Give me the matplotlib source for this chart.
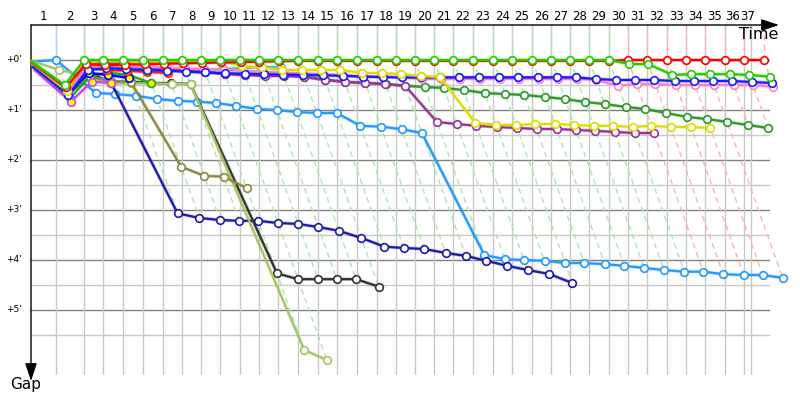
import matplotlib
matplotlib.use("Agg")
import matplotlib.pyplot as plt
from matplotlib import transforms

# ---------------- data ----------------
# leader's cumulative time (s) at the end of each lap 1..37
leader_lap_end = [84, 179, 243, 310, 378, 445, 509, 573, 637, 704, 768, 833, 900, 967,
                  1031, 1099, 1166, 1230, 1294, 1358, 1422, 1490, 1557, 1621, 1689, 1753,
                  1817, 1881, 1948, 2012, 2076, 2144, 2208, 2272, 2339, 2403, 2470]
time_limit = 2427
lap_labels = [str(i) for i in range(1, 38)]

# gap to leader (s) for each car, lap 0 .. last completed lap
gap_lime = [2, 30] + [0] * 28 + [4.8, 5, 18, 17, 17, 17, 18, 20]
gap_red = [3, 33, 5, 6, 5.5, 5, 4.5, 4, 3.5, 3, 2.5, 2, 1.5] + [1] * 17 + [0] * 8
gap_red_y = [4, 36, 9.6, 12, 13, 14.4, 15.6]
gap_yellow = [4, 37, 3, 1.5, 2, 2, 2.4, 2.4, 1.8, 1.2, 7, 9, 12, 12, 12, 12, 15.6, 15.6,
              16.8, 19.2, 20.4, 75.6, 78, 78, 76.8, 76.8, 78, 79, 79, 80.4, 79, 80.4, 80.4, 81.6]
gap_cyan = [5, 35, 7, 8, 9, 10, 10.8, 13.2, 12, 10.8, 9.6, 8.4, 8.4]
gap_purple = [6, 36, 4, 3.6, 3.6, 8, 12, 13, 14.4, 16.8, 18, 19.2, 19, 20.4, 24, 26.4, 27.6,
              28.8, 31, 74.4, 76.8, 79, 80.4, 81.6, 82.8, 82.8, 84, 85, 86.4, 87.6, 87.6]
gap_dgreen = [7, 40, 8, 5, 5, 8.5, 12, 13, 14.5, 16.5, 17.5, 18.5, 18.5, 20, 23.5, 26,
              27.5, 29, 31, 32.4, 33.6, 36, 39.6, 40.8, 42, 44.4, 46.8, 50.4, 52.8, 56.4,
              58.8, 63.6, 68.4, 70.8, 74.4, 78, 81.6]
gap_pink = [6, 40, 8, 6, 7, 8, 9, 10, 11, 12, 13, 14, 15, 16, 17, 18, 20, 20, 21] + \
           [22.8] * 9 + [24, 31, 28.8, 28.8, 30, 30, 30, 30, 30, 32.4]
gap_blue = [8, 42, 12, 10, 11, 12, 13, 14, 15, 16, 16.5, 17, 17.5, 18, 18.5, 19, 20, 20.5, 21] + \
           [20.8] * 9 + [22.8, 24, 24, 24, 25.2, 25.2, 25.2, 25.2, 26.4, 27.6]
gap_blue_y = [8, 40, 15.6, 18, 21.6]
gap_navy = [9, 42, 15, 27.6, 184, 189.6, 192, 193, 193, 195.6, 196.8, 200.4, 205, 213.6,
            224, 225.6, 226.8, 231.6, 235, 241, 247, 252, 256.8, 267.6]
gap_black = [8, 40, 20, 27, 26, 27.6, 28, 28.8, 256, 263, 263, 263, 263, 272]
gap_olive = [7, 38, 20, 25, 26, 128, 139, 140, 153.6]
gap_green_y = [10, 46, 20, 15, 18, 27.6]
gap_magenta_y = [12, 50, 26, 27.6]
gap_pale = [1, 12, 20, 28, 28, 28, 28.8, 28.8, 348, 360]
gap_lightblue = [2, 0, 39.6, 40.8, 43, 46.8, 49, 50, 51.6, 55, 58.8, 60, 62.4, 63.6, 63.6,
                 79, 80, 83, 87.6, 234, 239, 240, 241, 243.6, 243.6, 245, 247, 249.6, 252,
                 254, 254, 257, 258, 258, 261.6]

# (gaps, line colour, marker face) in drawing order
cars = [
    (gap_lightblue, "#2299ff", "white"),
    (gap_navy, "#1c1ca8", "white"),
    (gap_black, "#333333", "white"),
    (gap_pale, "#a6c464", "white"),
    (gap_olive, "#8a8a40", "white"),
    (gap_green_y, "#22aa22", "#ffff00"),
    (gap_magenta_y, "#cc44ee", "#ffff00"),
    (gap_blue_y, "#0000ff", "#ffff00"),
    (gap_red_y, "#ff2200", "#ffff00"),
    (gap_cyan, "#3cc8c8", "white"),
    (gap_dgreen, "#2a9a2a", "white"),
    (gap_purple, "#993399", "white"),
    (gap_pink, "#ff80c8", "white"),
    (gap_blue, "#1a1aff", "white"),
    (gap_yellow, "#e0dc00", "white"),
    (gap_red, "#ff0000", "white"),
    (gap_lime, "#22cc00", "white"),
]
light = {"#2299ff": "#a8d8ff", "#22cc00": "#a8e8a8", "#ff0000": "#ffb0b0"}

# ---------------- layout ----------------
W, H = 800, 400
fig = plt.figure(figsize=(W / 100, H / 100), dpi=100)
x0_px, x1_px, top_px, bot_px, zero_px = 31, 770, 25, 375, 60
sx = 0.2967          # px per second along x
sy = 50 / 60         # px per second along y
ax = fig.add_axes([x0_px / W, 1 - bot_px / H, (x1_px - x0_px) / W, (bot_px - top_px) / H])
xmax = (x1_px - x0_px) / sx
ytop = (top_px - zero_px) / sy
ybot = (bot_px - zero_px) / sy
ax.set_xlim(0, xmax)
ax.set_ylim(ybot, ytop)
for s in ax.spines.values():
    s.set_visible(False)
ax.set_xticks([])
ax.set_yticks([])

times = [0] + leader_lap_end
bounds = [0] + leader_lap_end[:36] + [time_limit]

# horizontal grid
for g in range(0, 331, 30):
    ax.axhline(g, color="#808080" if g % 60 == 0 else "#c8c8c8", lw=1, zorder=1)
# vertical grid
for b in bounds[1:]:
    ax.axvline(b, color="#c8c8c8", lw=1, zorder=1)

# per-lap diagonal dashed lines in leader colour
for lap in range(1, 38):
    gl = [(c[0][lap], c[1]) for c in cars if len(c[0]) > lap]
    lead_col = min(gl, key=lambda t: t[0])[1]
    maxg = max(t[0] for t in gl)
    T = times[lap]
    col = light.get(lead_col, "#a8e8a8")
    ax.plot([T, T], [ytop, 0], color=col, lw=1, ls=(0, (4, 3)), zorder=2)
    ax.plot([T, T + maxg], [0, maxg], color=col, lw=1, ls=(0, (4, 3)), zorder=2,
            clip_on=False)

# cars
for k, (gaps, col, mfc) in enumerate(cars):
    xs = [times[i] + g for i, g in enumerate(gaps)]
    ax.plot(xs, gaps, color=col, lw=2.6, alpha=0.25, zorder=3 + k * 0.1,
            solid_capstyle="round", clip_on=False)
    ax.plot(xs, gaps, color=col, lw=1.6, zorder=3 + k * 0.1 + 0.05,
            marker="o", ms=5.5, mfc=mfc, mec=col, mew=1.2,
            markevery=list(range(1, len(gaps))), clip_on=False)

# lap labels on top (keep crowded labels apart)
tb = transforms.blended_transform_factory(ax.transData, fig.transFigure)
centers = [(bounds[i] + bounds[i + 1]) / 2 for i in range(len(lap_labels))]
min_sep = 14.5 / sx
for i in range(len(centers) - 1, 0, -1):
    if centers[i] - centers[i - 1] < min_sep:
        centers[i - 1] = centers[i] - min_sep
for lab, cx in zip(lap_labels, centers):
    ax.text(cx, 1 - 17 / H, lab, transform=tb, ha="center", va="center",
            fontsize=8.5, clip_on=False)

# gap labels
ty = transforms.blended_transform_factory(fig.transFigure, ax.transData)
for m in range(0, 6):
    ax.text(22 / W, m * 60, "+%d'" % m, transform=ty, ha="right", va="center",
            fontsize=6.5, clip_on=False)

# axes arrows
ax.annotate("", xy=(779, H - top_px), xytext=(x0_px, H - top_px), xycoords="figure pixels",
            textcoords="figure pixels",
            arrowprops=dict(arrowstyle="-|>,head_length=0.9,head_width=0.3", color="black",
                            lw=1, shrinkA=0, shrinkB=0, mutation_scale=12))
ax.annotate("", xy=(x0_px, H - 381), xytext=(x0_px, H - top_px), xycoords="figure pixels",
            textcoords="figure pixels",
            arrowprops=dict(arrowstyle="-|>,head_length=0.9,head_width=0.3", color="black",
                            lw=1, shrinkA=0, shrinkB=0, mutation_scale=12))
fig.text(778 / W, 1 - 27 / H, "Time", ha="right", va="top", fontsize=11.5)
fig.text(10 / W, 1 - 377 / H, "Gap", ha="left", va="top", fontsize=11)

fig.savefig("out.png", dpi=100)
